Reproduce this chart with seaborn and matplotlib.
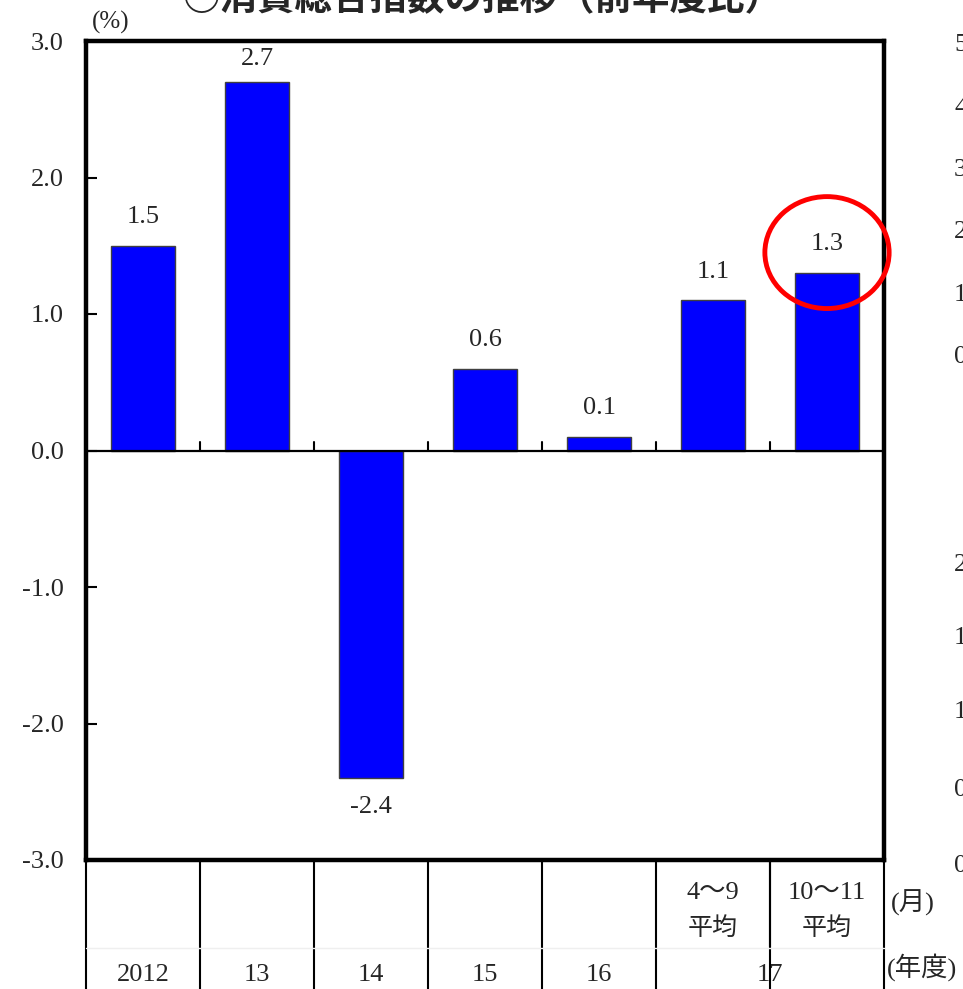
import matplotlib
matplotlib.use("Agg")
import matplotlib.pyplot as plt
import seaborn as sns
import pandas as pd
from matplotlib.patches import Ellipse
from matplotlib.lines import Line2D
from matplotlib.transforms import blended_transform_factory

# ---- data -------------------------------------------------------------
slots = ["2012", "13", "14", "15", "16", "17_4-9", "17_10-11"]
values = [1.5, 2.7, -2.4, 0.6, 0.1, 1.1, 1.3]
year_labels = ["2012", "13", "14", "15", "16"]
last_year = "17"
month_labels = ["4～9", "10～11"]
month_sub = "平均"
yticks = [-3.0, -2.0, -1.0, 0.0, 1.0, 2.0, 3.0]
title = "○消費総合指数の推移（前年度比）"
# tick labels of the neighbouring panel, cut by the page edge
side_upper = ["5.0", "4.0", "3.0", "2.0", "1.0", "0.0"]
side_lower = ["2.0", "1.5", "1.0", "0.5", "0.0"]

df = pd.DataFrame({"slot": slots, "value": values})

W, H = 963, 989
FS = 19
sns.set_theme(style="white")
plt.rcParams["font.family"] = ["Liberation Serif", "Noto Sans CJK JP"]
plt.rcParams["axes.unicode_minus"] = False

fig = plt.figure(figsize=(W / 100, H / 100), dpi=100)
fig.patch.set_facecolor("white")


def fx(px):
    return px / W


def fy(py):
    return 1 - py / H


ax = fig.add_axes([fx(86), fy(860), fx(884) - fx(86), fy(41) - fy(860)])

sns.barplot(data=df, x="slot", y="value", order=slots, color="#0000FF",
            saturation=1, width=0.56, edgecolor="#404040", linewidth=1.0,
            ax=ax, zorder=3)

ax.set_xlim(-0.5, len(slots) - 0.5)
ax.set_ylim(-3, 3)
ax.set_xlabel("")
ax.set_ylabel("")
ax.set_xticks([])
ax.set_yticks(yticks)
ax.set_yticklabels([f"{t:.1f}" for t in yticks], fontsize=FS)
ax.tick_params(axis="y", direction="in", length=8, width=1.5, color="black",
               pad=16, left=True)
for lab in ax.get_yticklabels():
    lab.set_horizontalalignment("right")

for s in ax.spines.values():
    s.set_visible(True)
    s.set_color("black")
    s.set_linewidth(3.2)

# zero line and category boundary ticks
ax.axhline(0, color="black", lw=1.6, zorder=4)
for k in range(1, len(slots)):
    ax.plot([k - 0.5, k - 0.5], [0, 0.06], color="black", lw=1.5, zorder=4)

# value labels (kept inside the frame near the top)
for i, v in enumerate(values):
    ty = min(v + 0.21, 2.87) if v >= 0 else v - 0.21
    ax.text(i, ty, f"{v:.1f}", ha="center", va="center", fontsize=FS)

# highlight of the latest period
ax.add_patch(Ellipse((6, 1.45), 1.09, 0.82, fill=False, edgecolor="#FF0000",
                     lw=3.5, zorder=6, clip_on=False))

# ---- table under the plot --------------------------------------------
tr = blended_transform_factory(ax.transData, fig.transFigure)
for k in range(len(slots) + 1):
    fig.add_artist(Line2D([k - 0.5, k - 0.5], [fy(860), fy(H + 2)],
                          transform=tr, color="black", lw=1.5))
fig.add_artist(Line2D([5.5, 5.5], [fy(860), fy(947)], transform=tr,
                      color="black", lw=1.5))
fig.add_artist(Line2D([-0.5, 6.5], [fy(948), fy(948)], transform=tr,
                      color="#efefef", lw=1.0))

for i, lab in enumerate(year_labels):
    fig.text(i, fy(975), lab, transform=tr, ha="center", va="center",
             fontsize=FS)
fig.text(5.5, fy(975), last_year, transform=tr, ha="center", va="center",
         fontsize=FS)
for i, lab in zip([5, 6], month_labels):
    fig.text(i, fy(893), lab, transform=tr, ha="center", va="center",
             fontsize=FS)
    fig.text(i, fy(929), month_sub, transform=tr, ha="center", va="center",
             fontsize=FS - 1)

fig.text(fx(891), fy(903), "(月)", ha="left", va="center", fontsize=FS)
fig.text(fx(887), fy(967), "(年度)", ha="left", va="center", fontsize=FS)
fig.text(fx(92), fy(22), "(%)", ha="left", va="center", fontsize=FS - 1)

fig.text(fx(482), fy(-1), title, ha="center", va="center", fontsize=27,
         fontweight="bold", family=["Noto Sans CJK JP"])

for lab, py in zip(side_upper, [45, 108, 170, 232, 295, 357]):
    fig.text(fx(954), fy(py), lab, ha="left", va="center", fontsize=FS)
for lab, py in zip(side_lower, [565, 638, 712, 790, 866]):
    fig.text(fx(954), fy(py), lab, ha="left", va="center", fontsize=FS)

fig.savefig("out.png", dpi=100, facecolor="white")
